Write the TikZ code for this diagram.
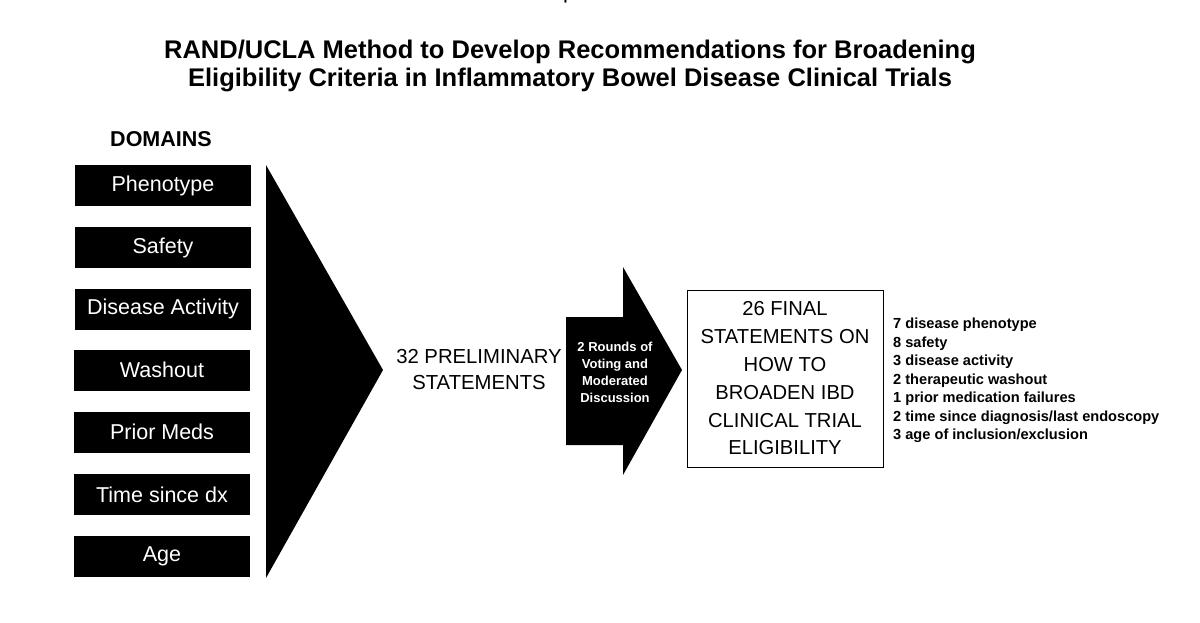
\documentclass[tikz,border=0pt]{standalone}
\usepackage{fontspec}
\setmainfont{Liberation Sans}
\begin{document}
\begin{tikzpicture}[x=1pt,y=-1pt,
  dom/.style={fill=black,text=white,minimum width=176pt,minimum height=41pt,inner sep=0pt,font=\fontsize{21.5}{24}\selectfont},
  list/.style={anchor=west,font=\bfseries\fontsize{14.6}{16}\selectfont,inner sep=0pt}]
\useasboundingbox (0,0) rectangle (1200,622);
\clip (0,0) rectangle (1200,622);
\node (ga) at (617,-7) {\fontsize{22}{24}\selectfont Graphical Abstract};
\node[align=center,font=\bfseries\fontsize{25.5}{28}\selectfont] (title) at (570,66) {RAND/UCLA Method to Develop Recommendations for Broadening\\Eligibility Criteria in Inflammatory Bowel Disease Clinical Trials};
\node[font=\bfseries\fontsize{21.5}{22}\selectfont] (dh) at (161,139) {DOMAINS};
\node[dom] (d1) at (163,185.5) {Phenotype};
\node[dom] (d2) at (163,247.5) {Safety};
\node[dom] (d3) at (163,309) {Disease Activity};
\node[dom] (d4) at (162,370) {Washout};
\node[dom] (d5) at (162,432) {Prior Meds};
\node[dom] (d6) at (162,494.5) {Time since dx};
\node[dom] (d7) at (162,556) {Age};
\fill (266,165) -- (383,370) -- (266,578) -- cycle;
\node[align=center,font=\fontsize{20.3}{26}\selectfont] (pre) at (479,370) {32 PRELIMINARY\\STATEMENTS};
\fill (566,317) -- (623,317) -- (623,267) -- (682,370) -- (623,475) -- (623,445) -- (566,445) -- cycle;
\node[align=center,text=white,font=\bfseries\fontsize{13}{17}\selectfont] (vote) at (615,372) {2 Rounds of\\Voting and\\Moderated\\Discussion};
\node[draw,line width=0.8pt,minimum width=196pt,minimum height=177pt,align=center,font=\fontsize{20.2}{27.8}\selectfont,inner sep=0pt] (fin) at (785,378.5) {26 FINAL\\STATEMENTS ON\\HOW TO\\BROADEN IBD\\CLINICAL TRIAL\\ELIGIBILITY};
\node[list] (l1) at (893,325) {7 disease phenotype};
\node[list] (l2) at (893,343.5) {8 safety};
\node[list] (l3) at (893,362) {3 disease activity};
\node[list] (l4) at (893,380.5) {2 therapeutic washout};
\node[list] (l5) at (893,399) {1 prior medication failures};
\node[list] (l6) at (893,417.5) {2 time since diagnosis/last endoscopy};
\node[list] (l7) at (893,436) {3 age of inclusion/exclusion};
\end{tikzpicture}
\end{document}
